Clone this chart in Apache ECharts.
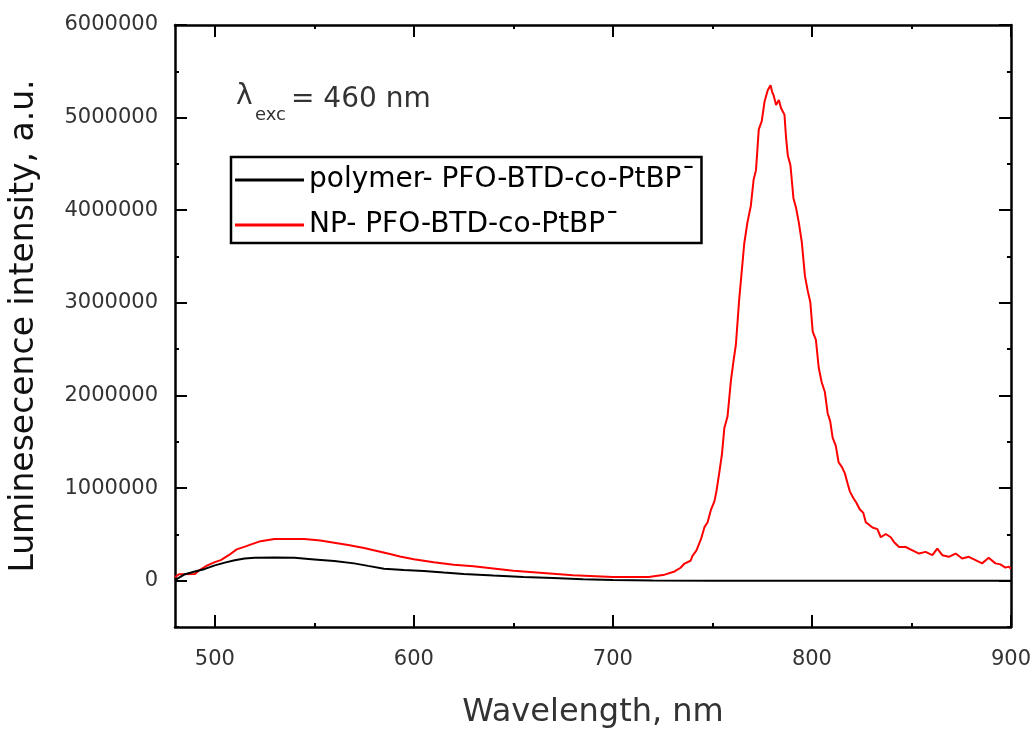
<!DOCTYPE html>
<html>
<head>
<meta charset="utf-8">
<script src="https://cdn.jsdelivr.net/npm/echarts@6/dist/echarts.min.js"></script>
<style>html,body{margin:0;padding:0;background:#fff;}#main{width:1034px;height:734px;}</style>
</head>
<body>
<div id="main"></div>
<script>
// ---- data ----
const polymerName = 'polymer- PFO-BTD-co-PtBP\u02C9';
const npName = 'NP- PFO-BTD-co-PtBP\u02C9';

const polymerWl = [480, 485, 490, 495, 500, 505, 510, 515, 520, 530, 540, 550, 560, 570, 577, 585, 595, 605, 615, 625, 640, 655, 670, 685, 700, 720, 750, 800, 850, 900];
const polymerI  = [5000, 70000, 100000, 127000, 165000, 195000, 220000, 240000, 248000, 250000, 248000, 230000, 212000, 187000, 160000, 130000, 115000, 105000, 88000, 72000, 55000, 40000, 28000, 15000, 8000, 3000, 0, 0, 0, 0];

const npWl = [480, 482, 490, 492, 496, 500, 503, 507, 511, 515.5, 519, 523, 530, 545, 553, 560, 567, 575, 582, 588, 593, 600, 610, 620, 630, 641, 650, 665, 680, 700, 718,
  726, 731, 734, 736, 739, 740, 742, 744.3, 746, 747.6, 749.3, 751, 752, 753.5, 754.8, 756, 757.6, 759.3, 760.6, 761.8, 763.4, 764.3, 766, 767.6, 769.3, 770.7, 771.9, 773.3, 774.8, 776.2, 777.8, 779.2, 780, 780.7, 782, 783.4, 784.5, 786.2, 787, 787.9, 789.2, 790.7, 792, 793.4, 794.9, 796.5, 797.9, 799.2,
  800.4, 802, 803.4, 804.9, 806.5, 807.9, 809.2, 810.4, 812, 813.4, 815.1, 816.6, 817.9, 819.1, 820.8, 822.4, 824.1, 825.8, 827.1, 828.4, 830.4, 832.9, 834.6, 837.1, 839.6, 841.3, 843.8, 847.1, 850.5, 853.8, 857.1, 860.5, 863, 865.5, 868.8, 872.2, 875.5, 878.8, 882.2, 885.5, 888.8, 892.2, 894.7, 897.2, 898.9, 900];
const npI = [39000, 70000, 72000, 110000, 163000, 200000, 222000, 275000, 338000, 370000, 398000, 427000, 451000, 451000, 435000, 410000, 385000, 352000, 318000, 288000, 262000, 232000, 200000, 172000, 155000, 130000, 108000, 84000, 60000, 40000, 40000,
  65000, 100000, 140000, 185000, 215000, 268000, 327000, 451000, 578000, 631000, 768000, 856000, 962000, 1173000, 1367000, 1649000, 1773000, 2161000, 2372000, 2548000, 3023000, 3235000, 3641000, 3869000, 4046000, 4328000, 4433000, 4873000, 4962000, 5173000, 5296000, 5349000, 5279000, 5243000, 5137000, 5190000, 5102000, 5032000, 4785000, 4592000, 4486000, 4133000, 4028000, 3869000, 3658000, 3288000, 3129000, 3006000,
  2689000, 2601000, 2302000, 2143000, 2037000, 1808000, 1720000, 1544000, 1456000, 1279000, 1226000, 1156000, 1051000, 962000, 892000, 839000, 768000, 734000, 628000, 610000, 575000, 557000, 469000, 504000, 469000, 416000, 364000, 364000, 328000, 293000, 311000, 275000, 346000, 275000, 258000, 293000, 240000, 258000, 222000, 187000, 247000, 187000, 176000, 141000, 152000, 130000];

const xMajor = [500, 600, 700, 800, 900];
const xMinor = [550, 650, 750, 850];
const yMajor = [0, 1000000, 2000000, 3000000, 4000000, 5000000, 6000000];
const yMinor = [-500000, 500000, 1500000, 2500000, 3500000, 4500000, 5500000];

const xTitle = 'Wavelength, nm';
const yTitle = 'Luminesecence intensity, a.u.';
const excLabel = ['\u03BB', 'exc', '= 460 nm'];

// ---- chart ----
const FONT = 'DejaVu Sans';
const chart = echarts.init(document.getElementById('main'), null, {renderer: 'canvas'});
const zip = (a, b) => a.map((v, i) => [v, b[i]]);
const plain = v => String(Math.round(v));

function xAx(pos, ticks, len, showLine, label, name) {
  const ax = {
    type: 'value', position: pos, min: 480, max: 900, gridIndex: 0,
    axisLine: {show: showLine, onZero: false, lineStyle: {color: '#000', width: 2.5}},
    axisTick: {show: true, inside: true, length: len, customValues: ticks, lineStyle: {color: '#000', width: 2}},
    axisLabel: {show: label, customValues: ticks, margin: 22, color: '#333', fontFamily: FONT, fontSize: 21, formatter: plain},
    splitLine: {show: false}
  };
  if (name) {
    ax.name = name; ax.nameLocation = 'middle'; ax.nameGap = 70;
    ax.nameTextStyle = {fontFamily: FONT, fontSize: 32, color: '#333'};
  }
  return ax;
}
function yAx(pos, ticks, len, showLine, label, name) {
  const ax = {
    type: 'value', position: pos, min: -500000, max: 6000000, gridIndex: 0,
    axisLine: {show: showLine, onZero: false, lineStyle: {color: '#000', width: 2.5}},
    axisTick: {show: true, inside: true, length: len, customValues: ticks, lineStyle: {color: '#000', width: 2}},
    axisLabel: {show: label, customValues: ticks, margin: 17, color: '#333', fontFamily: FONT, fontSize: 21, formatter: plain},
    splitLine: {show: false}
  };
  if (name) {
    ax.name = name; ax.nameLocation = 'middle'; ax.nameGap = 134;
    ax.nameTextStyle = {fontFamily: FONT, fontSize: 33, color: '#111'};
  }
  return ax;
}

const option = {
  animation: false,
  backgroundColor: '#fff',
  grid: {left: 174, right: 22, top: 25, bottom: 94, containLabel: false},
  xAxis: [
    xAx('bottom', xMajor, 12, true, true, xTitle),
    xAx('bottom', xMinor, 4, false, false),
    xAx('top', xMajor, 12, true, false),
    xAx('top', xMinor, 4, false, false)
  ],
  yAxis: [
    yAx('left', yMajor, 12, true, true, yTitle),
    yAx('left', yMinor, 4, false, false),
    yAx('right', yMajor, 12, true, false),
    yAx('right', yMinor, 4, false, false)
  ],
  legend: {
    orient: 'vertical', left: 231, top: 157,
    padding: [7, 6, 2, 4], itemGap: 13,
    borderColor: '#000', borderWidth: 2.5, backgroundColor: '#fff',
    icon: 'rect', itemWidth: 69, itemHeight: 3,
    textStyle: {fontFamily: FONT, fontSize: 28, color: '#000', lineHeight: 32},
    data: [polymerName, npName]
  },
  graphic: [
    {type: 'text', left: 236, top: 83, style: {text: excLabel[0], font: '28px "' + FONT + '"', fill: '#333'}},
    {type: 'text', left: 255, top: 106, style: {text: excLabel[1], font: '18px "' + FONT + '"', fill: '#333'}},
    {type: 'text', left: 291, top: 86, style: {text: excLabel[2], font: '28px "' + FONT + '"', fill: '#333'}}
  ],
  series: [
    {name: polymerName, type: 'line', xAxisIndex: 0, yAxisIndex: 0, showSymbol: false, symbol: 'none',
     data: zip(polymerWl, polymerI), lineStyle: {color: '#000', width: 2}, itemStyle: {color: '#000'}, z: 3},
    {name: npName, type: 'line', xAxisIndex: 0, yAxisIndex: 0, showSymbol: false, symbol: 'none',
     data: zip(npWl, npI), lineStyle: {color: '#ff0000', width: 2}, itemStyle: {color: '#ff0000'}, z: 2}
  ]
};
chart.setOption(option);
</script>
</body>
</html>
